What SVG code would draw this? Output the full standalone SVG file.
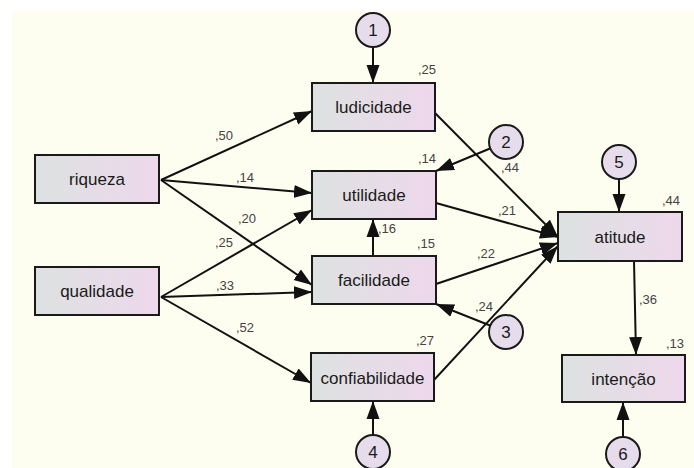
<svg xmlns="http://www.w3.org/2000/svg" width="694" height="468" viewBox="0 0 694 468">
<defs>
<linearGradient id="boxfill" x1="0" y1="0" x2="1" y2="0">
<stop offset="0" stop-color="#dde2e1"/>
<stop offset="1" stop-color="#eed8ec"/>
</linearGradient>
<marker id="ah" markerUnits="userSpaceOnUse" markerWidth="20" markerHeight="14" refX="18" refY="7" orient="auto">
<path d="M0,0.5 L18,7 L0,13.5 z" fill="#111"/>
</marker>
<style>
.box{fill:url(#boxfill);stroke:#1a1a1a;stroke-width:2}
.circ{fill:#e6dcec;stroke:#1a1a1a;stroke-width:2}
.lbl{font-family:"Liberation Sans",Arial,sans-serif;font-size:17px;fill:#1a1a1a;text-anchor:middle}
.num{font-family:"Liberation Sans",Arial,sans-serif;font-size:13px;fill:#444}
.con line{stroke:#111;stroke-width:2;marker-end:url(#ah)}
</style>
</defs>
<rect x="0" y="0" width="694" height="468" fill="#ffffff"/>
<rect x="12" y="11" width="682" height="457" fill="#fefef0"/>

<g id="connectors" class="con">
<line x1="161" y1="180" x2="312" y2="111"/>
<line x1="161" y1="180" x2="312" y2="193"/>
<line x1="161" y1="180" x2="312" y2="285"/>
<line x1="161" y1="297" x2="312" y2="210"/>
<line x1="161" y1="297" x2="312" y2="292"/>
<line x1="161" y1="297" x2="311" y2="383"/>
<line x1="373" y1="47" x2="373" y2="83"/>
<line x1="490" y1="148.5" x2="436" y2="171"/>
<line x1="490" y1="325.5" x2="436" y2="304"/>
<line x1="373" y1="435" x2="373" y2="401"/>
<line x1="373" y1="256" x2="373" y2="219"/>
<line x1="435" y1="113" x2="558" y2="237"/>
<line x1="436" y1="203" x2="558" y2="237"/>
<line x1="436" y1="284" x2="558" y2="243"/>
<line x1="434" y1="380" x2="558" y2="246"/>
<line x1="619" y1="179" x2="619" y2="212"/>
<line x1="634" y1="261" x2="636" y2="355"/>
<line x1="623" y1="437" x2="623" y2="402"/>
</g>

<g id="riqueza"><rect class="box" x="35" y="155" width="124" height="48"/><text class="lbl" x="97" y="185">riqueza</text></g>
<g id="qualidade"><rect class="box" x="35" y="267" width="124" height="48"/><text class="lbl" x="97" y="297">qualidade</text></g>
<g id="ludicidade"><rect class="box" x="312" y="83" width="123" height="48"/><text class="lbl" x="373.5" y="113">ludicidade</text></g>
<g id="utilidade"><rect class="box" x="312" y="171" width="124" height="48"/><text class="lbl" x="374" y="201">utilidade</text></g>
<g id="facilidade"><rect class="box" x="312" y="256" width="124" height="48"/><text class="lbl" x="374" y="286">facilidade</text></g>
<g id="confiabilidade"><rect class="box" x="311" y="353" width="123" height="48"/><text class="lbl" x="372.5" y="384">confiabilidade</text></g>
<g id="atitude"><rect class="box" x="558" y="212" width="124" height="49"/><text class="lbl" x="620" y="243">atitude</text></g>
<g id="intencao"><rect class="box" x="562" y="355" width="123" height="47"/><text class="lbl" x="623.5" y="385">intenção</text></g>

<g id="e1"><circle class="circ" cx="373" cy="30" r="17"/><text class="lbl" x="373" y="36">1</text></g>
<g id="e2"><circle class="circ" cx="506" cy="142" r="17"/><text class="lbl" x="506" y="148">2</text></g>
<g id="e3"><circle class="circ" cx="506" cy="332" r="17"/><text class="lbl" x="506" y="338">3</text></g>
<g id="e4"><circle class="circ" cx="373" cy="452" r="17"/><text class="lbl" x="373" y="458">4</text></g>
<g id="e5"><circle class="circ" cx="619" cy="162" r="17"/><text class="lbl" x="619" y="168">5</text></g>
<g id="e6"><circle class="circ" cx="623" cy="454" r="17"/><text class="lbl" x="623" y="460">6</text></g>

<g id="labels">
<text class="num" x="418" y="74">,25</text>
<text class="num" x="418" y="163">,14</text>
<text class="num" x="501" y="172">,44</text>
<text class="num" x="498" y="215">,21</text>
<text class="num" x="378" y="233">,16</text>
<text class="num" x="417" y="248">,15</text>
<text class="num" x="477" y="258">,22</text>
<text class="num" x="475" y="311">,24</text>
<text class="num" x="416" y="345">,27</text>
<text class="num" x="662" y="205">,44</text>
<text class="num" x="639" y="304">,36</text>
<text class="num" x="666" y="348">,13</text>
<text class="num" x="215" y="140">,50</text>
<text class="num" x="236" y="182">,14</text>
<text class="num" x="238" y="223">,20</text>
<text class="num" x="215" y="247">,25</text>
<text class="num" x="216" y="290">,33</text>
<text class="num" x="236" y="332">,52</text>
</g>
</svg>
